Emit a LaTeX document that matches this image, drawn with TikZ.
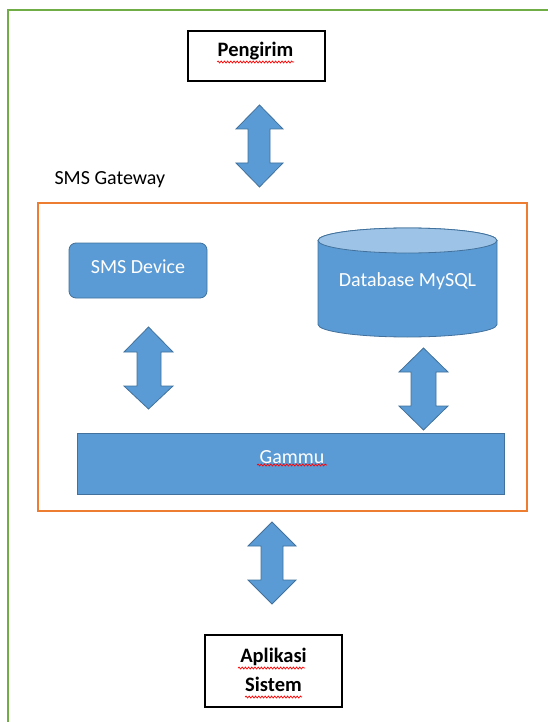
\documentclass[tikz,border=0pt]{standalone}
\usepackage{fontspec}
\setmainfont{Carlito}
\usetikzlibrary{decorations.pathmorphing,calc}
\definecolor{blu}{HTML}{5B9BD5}
\definecolor{bludark}{HTML}{41719C}
\definecolor{blulight}{HTML}{9DC3E6}
\definecolor{orng}{HTML}{ED7D31}
\definecolor{grn}{HTML}{70AD47}
\tikzset{
  blockarrow/.style={fill=blu,draw=bludark,line width=0.8pt,line join=miter},
  whitebox/.style={draw=black,line width=1.3pt,fill=white},
  lbl/.style={font=\fontsize{20}{23}\selectfont},
  squiggle/.style={draw=red,line width=0.7pt,decorate,decoration={snake,amplitude=1pt,segment length=3.2pt}}
}
% xl xr sl sr ytop yh1 yh2 ybot
\newcommand{\dblarr}[8]{%
  \draw[blockarrow] ({(#1+#2)/2},-#5) -- (#2,-#6) -- (#4,-#6) -- (#4,-#7) -- (#2,-#7)
    -- ({(#1+#2)/2},-#8) -- (#1,-#7) -- (#3,-#7) -- (#3,-#6) -- (#1,-#6) -- cycle;}
\begin{document}
\begin{tikzpicture}[x=1pt,y=1pt]
\useasboundingbox (0,0) rectangle (548,-722);
\begin{scope}
\clip (0,0) rectangle (548,-722);
\draw[grn,line width=2pt] (7.5,-800) -- (7.5,-10.5) -- (600,-10.5);
\end{scope}

% Pengirim
\node[whitebox,minimum width=137pt,minimum height=50pt,inner sep=0pt] (peng) at (256.5,-56) {};
\node[lbl,font=\bfseries\fontsize{20.5}{23}\selectfont] (pengt) at (255.5,-51) {Pengirim};
\draw[squiggle] (217,-62) -- (294,-62);

% arrow 1
\dblarr{236}{283}{248}{270}{105}{129}{163}{187}

% SMS Gateway label
\node[lbl,anchor=west] (gwlabel) at (51,-180) {SMS Gateway};

% orange box
\node[draw=orng,line width=1.4pt,minimum width=489pt,minimum height=308pt,inner sep=0pt] (gw) at (282.5,-357) {};

% SMS Device
\node[fill=blu,draw=bludark,line width=0.8pt,rounded corners=7pt,minimum width=138pt,minimum height=55pt,inner sep=0pt] (dev) at (138,-270.5) {};
\node[lbl,text=white] (devt) at (138,-267) {SMS Device};

% cylinder
\fill[blu,draw=bludark,line width=0.8pt] (318,-240.5) -- (318,-324.5)
  arc[start angle=180,end angle=360,x radius=89.5,y radius=12.5] -- (497,-240.5)
  arc[start angle=0,end angle=180,x radius=89.5,y radius=12.5] -- cycle;
\fill[blulight,draw=bludark,line width=0.8pt] (407.5,-240.5) ellipse[x radius=89.5,y radius=12.5];
\node[lbl,text=white] (db) at (407.5,-281) {Database MySQL};

% arrows inside
\dblarr{124}{173}{137}{161}{327}{352}{386}{409}
\dblarr{399}{448}{411}{436}{348}{372}{406}{430}

% Gammu
\node[fill=blu,draw=bludark,line width=0.8pt,minimum width=427pt,minimum height=61pt,inner sep=0pt] (gam) at (290.5,-463.5) {};
\node[lbl,text=white] (gamt) at (292,-457) {Gammu};
\draw[squiggle] (257,-465) -- (327,-465);

% arrow bottom
\dblarr{248}{296}{261}{283}{522}{546}{580}{604}

% Aplikasi Sistem
\node[whitebox,minimum width=137pt,minimum height=72pt,inner sep=0pt] (app) at (273.5,-671) {};
\node[lbl,font=\bfseries\fontsize{20.5}{29}\selectfont,align=center] (appt) at (273.5,-670) {Aplikasi\\Sistem};
\draw[squiggle] (238,-668) -- (305,-668);
\draw[squiggle] (245,-697) -- (302,-697);
\end{tikzpicture}
\end{document}
